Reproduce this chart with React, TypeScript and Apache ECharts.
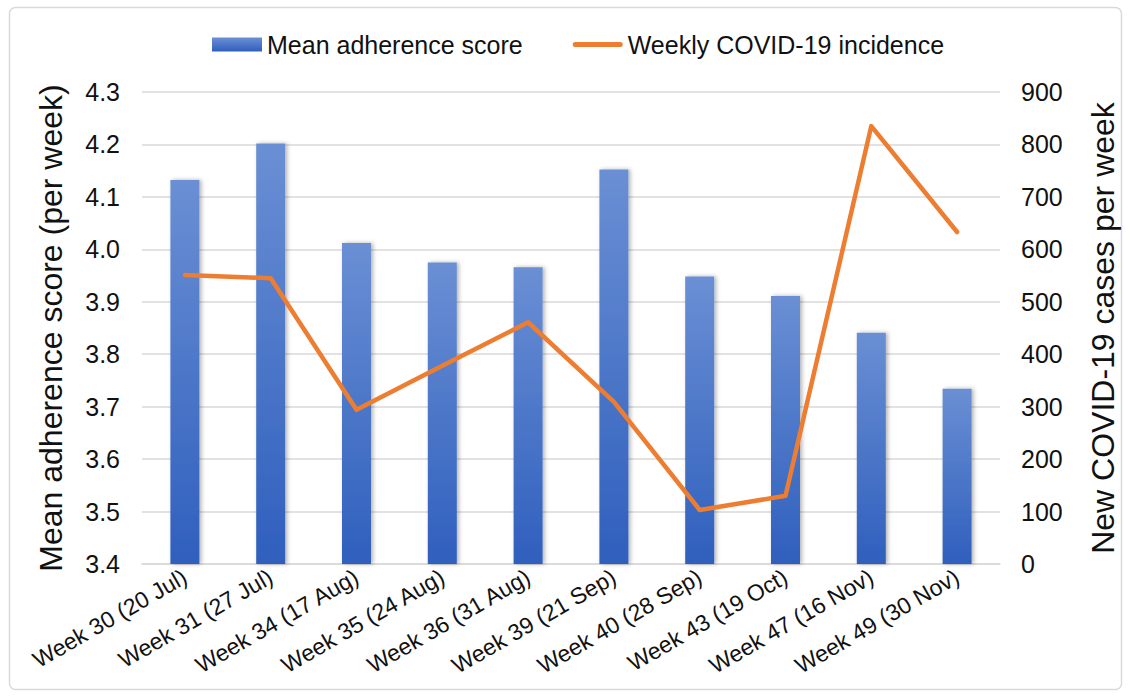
import React, { useEffect, useRef } from "react";
import * as echarts from "echarts";

const categories = [
  "Week 30 (20 Jul)",
  "Week 31 (27 Jul)",
  "Week 34 (17 Aug)",
  "Week 35 (24 Aug)",
  "Week 36 (31 Aug)",
  "Week 39 (21 Sep)",
  "Week 40 (28 Sep)",
  "Week 43 (19 Oct)",
  "Week 47 (16 Nov)",
  "Week 49 (30 Nov)",
];
const adherence = [4.132, 4.202, 4.012, 3.975, 3.966, 4.152, 3.948, 3.911, 3.841, 3.734];
const incidence = [551, 545, 294, 378, 461, 309, 103, 130, 835, 633];
const leftTicks = { min: 3.4, max: 4.3, interval: 0.1 };
const rightTicks = { min: 0, max: 900, interval: 100 };

const FONT = "'Liberation Sans', Arial, sans-serif";

export default function App() {
  const ref = useRef<HTMLDivElement>(null);
  useEffect(() => {
    if (!ref.current) return;
    const chart = echarts.init(ref.current, null, { renderer: "svg" });
    chart.setOption({
      animation: false,
      textStyle: { fontFamily: FONT },
      graphic: [
        {
          type: "rect",
          shape: { x: 9.5, y: 7.5, width: 1112, height: 682, r: 6 },
          style: { fill: "none", stroke: "#d9d9d9", lineWidth: 1.5 },
          silent: true,
        },
      ],
      legend: {
        top: 27,
        left: 207,
        itemWidth: 50,
        itemHeight: 14,
        itemGap: 50,
        symbolKeepAspect: true,
        textStyle: { fontSize: 25, color: "#111", fontFamily: FONT },
        data: [
          { name: "Mean adherence score", icon: "rect" },
          {
            name: "Weekly COVID-19 incidence",
            icon: "path://M2.5,0 L47.5,0 A2.5,2.5 0 0 1 47.5,5 L2.5,5 A2.5,2.5 0 0 1 2.5,0 Z",
            itemStyle: { color: "#ed7d31" },
          },
        ],
      },
      grid: { left: 142, right: 130, top: 92, bottom: 134, containLabel: false },
      xAxis: {
        type: "category",
        data: categories,
        axisLine: { lineStyle: { color: "#d9d9d9", width: 1.5 } },
        axisTick: { show: false },
        axisLabel: {
          rotate: 30,
          interval: 0,
          fontSize: 23,
          color: "#111",
          margin: 11,
          fontFamily: FONT,
        },
      },
      yAxis: [
        {
          type: "value",
          min: leftTicks.min,
          max: leftTicks.max,
          interval: leftTicks.interval,
          name: "Mean adherence score (per week)",
          nameLocation: "middle",
          nameGap: 75,
          nameTextStyle: { fontSize: 32, color: "#111", fontFamily: FONT },
          axisLabel: {
            fontSize: 25,
            color: "#111",
            margin: 22,
            formatter: (v: number) => v.toFixed(1),
            fontFamily: FONT,
          },
          axisLine: { show: false },
          axisTick: { show: false },
          splitLine: { lineStyle: { color: "#d9d9d9", width: 1.5 } },
        },
        {
          type: "value",
          min: rightTicks.min,
          max: rightTicks.max,
          interval: rightTicks.interval,
          name: "New COVID-19 cases per week",
          nameLocation: "middle",
          nameGap: 87,
          nameRotate: 90,
          nameTextStyle: { fontSize: 32, color: "#111", fontFamily: FONT },
          axisLabel: { fontSize: 25, color: "#111", margin: 21, fontFamily: FONT },
          axisLine: { show: false },
          axisTick: { show: false },
          splitLine: { show: false },
        },
      ],
      series: [
        {
          name: "Mean adherence score",
          type: "bar",
          yAxisIndex: 0,
          data: adherence,
          barWidth: 29,
          itemStyle: {
            color: new echarts.graphic.LinearGradient(0, 0, 0, 1, [
              { offset: 0, color: "#6a8fd4" },
              { offset: 1, color: "#2f5fbd" },
            ]),
            shadowBlur: 4,
            shadowOffsetX: 2,
            shadowOffsetY: 0,
            shadowColor: "rgba(0,0,0,0.3)",
          },
        },
        {
          name: "Weekly COVID-19 incidence",
          type: "line",
          yAxisIndex: 1,
          data: incidence,
          showSymbol: false,
          symbol: "none",
          itemStyle: { color: "#ed7d31" },
          lineStyle: { color: "#ed7d31", width: 4.5, cap: "round", join: "round" },
        },
      ],
    });
    return () => chart.dispose();
  }, []);
  return (
    <div
      ref={ref}
      style={{ position: "absolute", left: 0, top: 0, width: 1130, height: 698, background: "#fff" }}
    />
  );
}
